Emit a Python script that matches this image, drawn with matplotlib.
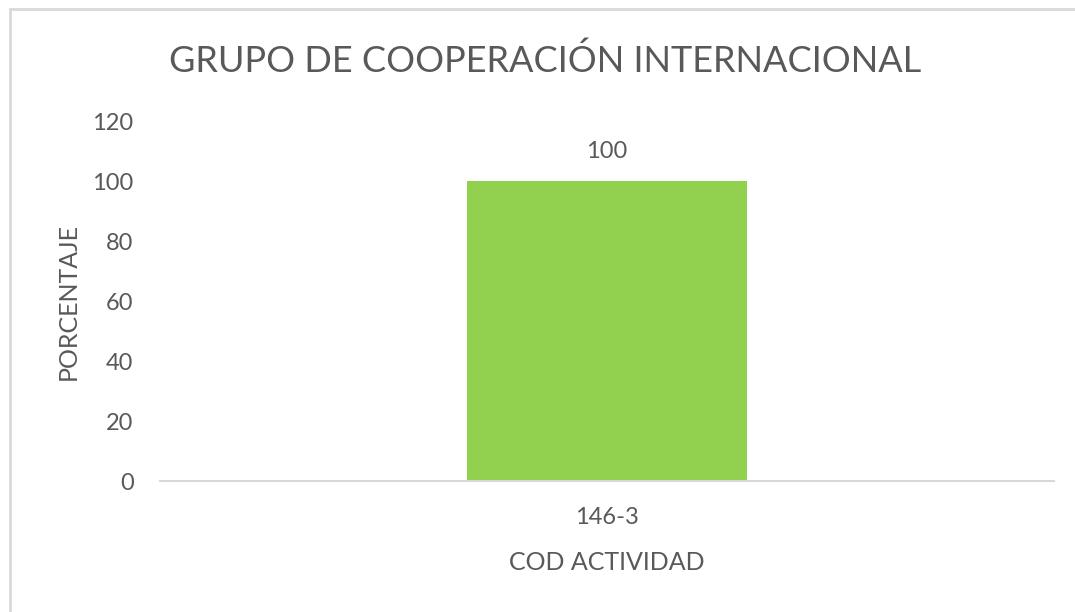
import matplotlib
matplotlib.use("Agg")
import matplotlib.pyplot as plt
from matplotlib.patches import Rectangle

# datos del grafico
categorias = ["146-3"]
porcentajes = [100]
yticks = [0, 20, 40, 60, 80, 100, 120]

gris = "#595959"
plt.rcParams['font.family'] = ['Lato', 'DejaVu Sans']

fig = plt.figure(figsize=(10.75, 6.12), dpi=100)
fig.set_facecolor('white')

# marco del area del grafico
fig.patches.append(Rectangle((9.5 / 1075, -0.05), 1.1, 1 - 8.5 / 612 + 0.05,
                             transform=fig.transFigure, fill=False,
                             edgecolor="#D9D9D9", linewidth=2))

ax = fig.add_axes([160 / 1075, 1 - 481 / 612, (1054 - 160) / 1075, 360 / 612])
x = range(len(categorias))
barras = ax.bar(x, porcentajes, width=0.314, color="#92D050")
ax.set_xlim(-0.5, len(categorias) - 0.5)
ax.set_ylim(0, 120)
ax.set_yticks(yticks)
ax.set_xticks(list(x))
ax.set_xticklabels(categorias)

for s in ["top", "right", "left"]:
    ax.spines[s].set_visible(False)
ax.spines["bottom"].set_color("#D9D9D9")
ax.spines["bottom"].set_linewidth(1.5)
ax.tick_params(axis="both", length=0, labelsize=17, colors=gris)
ax.tick_params(axis="y", pad=19)
ax.tick_params(axis="x", pad=19)

for b, v in zip(barras, porcentajes):
    ax.annotate(f"{v}", (b.get_x() + b.get_width() / 2, v), xytext=(0, 14),
                textcoords="offset points", ha="center", va="bottom",
                fontsize=17, color=gris)

fig.text(545 / 1075, 1 - 61 / 612, "GRUPO DE COOPERACIÓN INTERNACIONAL",
         ha="center", va="center", fontsize=26, color=gris)
ax.set_ylabel("PORCENTAJE", fontsize=18, color=gris, labelpad=9)
ax.set_xlabel("COD ACTIVIDAD", fontsize=18, color=gris, labelpad=16)

fig.savefig("out.png", dpi=100)
